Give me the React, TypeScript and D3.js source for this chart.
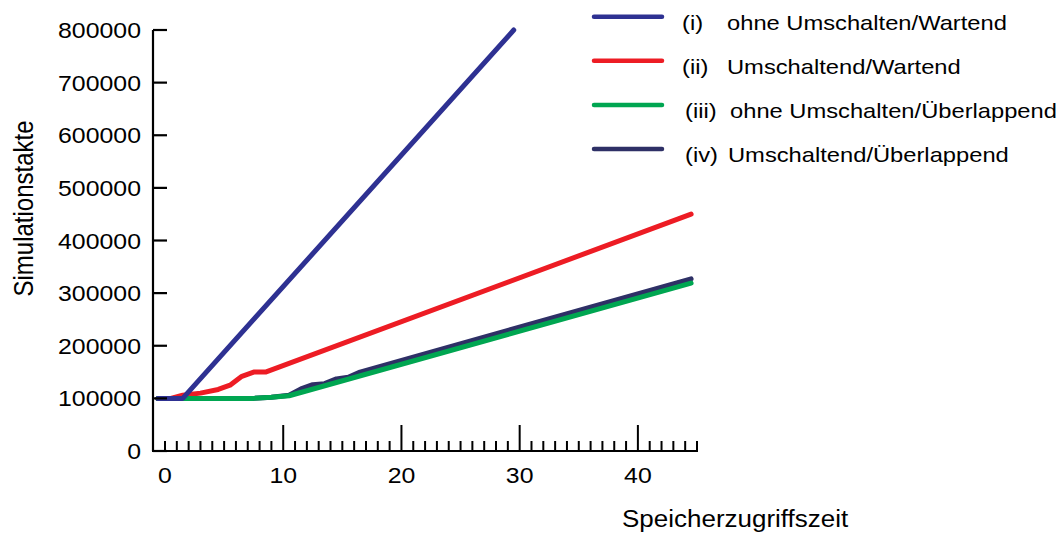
import React from "react";
import * as d3 from "d3";

// Werte (x = Speicherzugriffszeit, y = Simulationstakte)
const seriesLabels = [
  ["(i)", "ohne Umschalten/Wartend"],
  ["(ii)", "Umschaltend/Wartend"],
  ["(iii)", "ohne Umschalten/Überlappend"],
  ["(iv)", "Umschaltend/Überlappend"],
];
const seriesColors = ["#2e3192", "#ed1c24", "#00a651", "#2e3066"];

const ohneWartend: [number, number][] = [
  [-0.6, 100000], [1.5, 100000], [29.5, 800000],
];
const umschWartend: [number, number][] = [
  [-0.6, 100000], [0.5, 100000], [1.5, 106000], [3, 110000], [4.5, 117000],
  [5.5, 125000], [6.5, 142000], [7.5, 150000], [8.5, 150000], [44.5, 450000],
];
const ohneUeberlappend: [number, number][] = [
  [-0.6, 100000], [7.5, 100000], [9, 102000], [10.5, 105000], [44.5, 319000],
];
const umschUeberlappend: [number, number][] = [
  [-0.6, 100000], [7.5, 100000], [9, 102000], [10.5, 106000], [11.5, 118000],
  [12.5, 126000], [13.5, 128000], [14.5, 137000], [15.5, 140000],
  [16.5, 150000], [44.5, 327000],
];
const series = [ohneWartend, umschWartend, ohneUeberlappend, umschUeberlappend];
// Zeichenreihenfolge wie im Original: rot, navy, grün, blau oben
const drawOrder = [1, 3, 2, 0];

const xMajorTicks = [0, 10, 20, 30, 40];
const xMinorTicks = d3.range(0, 46);
const yTicks = d3.range(0, 800001, 100000);

const FONT = "'Liberation Sans', Arial, Helvetica, sans-serif";
const SX = 1.13; // das Original ist horizontal gestreckt

const App = () => {
  const x = d3.scaleLinear().domain([0, 45]).range([165, 697]);
  const y = d3.scaleLinear().domain([0, 800000]).range([451, 30]);
  const line = d3
    .line<[number, number]>()
    .x((d) => x(d[0]))
    .y((d) => y(d[1]));

  const axisX0 = 153;

  return (
    <svg
      width={1057}
      height={534}
      style={{ position: "absolute", left: 0, top: 0, background: "#fff" }}
      fontFamily={FONT}
    >
      {/* Linien */}
      {drawOrder.map((i) => (
        <path
          key={i}
          d={line(series[i]) || ""}
          fill="none"
          stroke={seriesColors[i]}
          strokeWidth={5}
          strokeLinejoin="round"
          strokeLinecap="round"
        />
      ))}

      {/* y-Achse */}
      <line x1={axisX0} x2={axisX0} y1={y(800000)} y2={y(0)} stroke="#000" strokeWidth={2.2} />
      {yTicks.map((t) => (
        <g key={t}>
          <line x1={axisX0} x2={axisX0 + 14} y1={y(t)} y2={y(t)} stroke="#000" strokeWidth={2.2} />
          <text
            transform={`translate(141,${y(t) + 8}) scale(${SX},1)`}
            textAnchor="end"
            fontSize={22}
            fill="#000"
          >
            {t}
          </text>
        </g>
      ))}

      {/* x-Achse */}
      <line x1={axisX0 - 1} x2={x(45) + 1} y1={y(0)} y2={y(0)} stroke="#000" strokeWidth={2.2} />
      {xMinorTicks.map((t) => (
        <line
          key={t}
          x1={x(t)}
          x2={x(t)}
          y1={y(0)}
          y2={y(0) - (t % 10 === 0 && t > 0 ? 26 : 10)}
          stroke="#000"
          strokeWidth={2}
        />
      ))}
      {xMajorTicks.map((t) => (
        <text
          key={t}
          transform={`translate(${x(t)},483) scale(${SX},1)`}
          textAnchor="middle"
          fontSize={22}
          fill="#000"
        >
          {t}
        </text>
      ))}

      {/* Achsentitel */}
      <text
        transform={`translate(33,208.5) scale(${SX},1) rotate(-90)`}
        textAnchor="middle"
        fontSize={24}
        fill="#000"
      >
        Simulationstakte
      </text>
      <text transform={`translate(622,527) scale(${SX},1)`} fontSize={23} fill="#000">
        Speicherzugriffszeit
      </text>

      {/* Legende */}
      {seriesLabels.map((lab, i) => {
        const ly = 16.7 + i * 44.1;
        const nx = i < 2 ? 682 : 685;
        const tx = i === 0 || i === 1 ? 727 : i === 2 ? 730 : 728;
        return (
          <g key={i}>
            <line
              x1={594}
              x2={662}
              y1={ly}
              y2={ly}
              stroke={seriesColors[i]}
              strokeWidth={4.5}
              strokeLinecap="round"
            />
            <text transform={`translate(${nx},${ly + 13}) scale(${SX},1)`} fontSize={21} fill="#000">
              {lab[0]}
            </text>
            <text transform={`translate(${tx},${ly + 13}) scale(${SX},1)`} fontSize={21} fill="#000">
              {lab[1]}
            </text>
          </g>
        );
      })}
    </svg>
  );
};

export default App;
